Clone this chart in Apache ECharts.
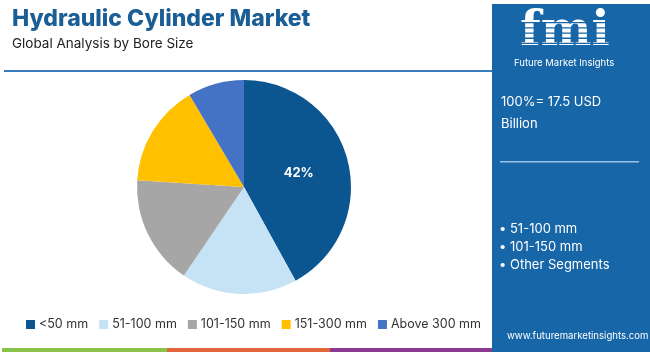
<!DOCTYPE html>
<html>
<head>
<meta charset="utf-8">
<script src="https://cdn.jsdelivr.net/npm/echarts@6/dist/echarts.min.js"></script>
<style>
  html, body { margin: 0; padding: 0; background: #fff; }
  #main { width: 650px; height: 352px; }
</style>
</head>
<body>
<div id="main"></div>
<script>
// 数据
const categories = ['<50 mm', '51-100 mm', '101-150 mm', '151-300 mm', 'Above 300 mm']
const shares = [42, 17.5, 16.5, 15.5, 8.5]
const sliceColors = ['#0b5591', '#c5e3f5', '#a6a6a6', '#ffc000', '#4472c4']
const sideBullets = ['• 51-100 mm', '• 101-150 mm', '• Other Segments']

const font = 'Inter, "Noto Sans", sans-serif'
const panelBlue = '#1766a8'

var myChart = echarts.init(document.getElementById('main'))

const pieData = categories.map(function (name, i) {
  return {
    name: name,
    value: shares[i],
    itemStyle: { color: sliceColors[i] },
    // 只有第一块显示百分比
    label: { show: i === 0 }
  }
})

const bulletTexts = sideBullets.map(function (t, i) {
  return {
    type: 'text',
    left: 499,
    top: 223 + i * 18,
    style: { text: t, fill: '#fff', font: '13px ' + font }
  }
})

// 标志上的横条纹
const stripes = []
for (let k = 0; k < 7; k++) {
  stripes.push({
    type: 'rect',
    shape: { x: 512, y: 22 + k * 5.2, width: 122, height: 1.3 },
    style: { fill: panelBlue },
    z: 20
  })
}

const options = {
  animation: false,
  title: [
    {
      text: 'Hydraulic Cylinder Market',
      left: 7,
      top: 3,
      textStyle: { color: '#1b5e96', fontSize: 23, fontWeight: 800, fontFamily: font }
    },
    {
      text: 'Global Analysis by Bore Size',
      left: 7,
      top: 32,
      textStyle: { color: '#222', fontSize: 13.5, fontWeight: 'normal', fontFamily: font }
    }
  ],
  legend: {
    left: 21,
    top: 313,
    itemWidth: 9,
    itemHeight: 9,
    itemGap: 11,
    icon: 'rect',
    textStyle: { fontSize: 12.5, color: '#333', fontFamily: font, padding: [0, 0, 0, -1] },
    data: categories
  },
  graphic: [
    // 左侧分隔线
    { type: 'rect', shape: { x: 4, y: 70, width: 488, height: 2 }, style: { fill: '#3a7bbf' } },
    // 右侧面板
    { type: 'rect', shape: { x: 492, y: 4, width: 158, height: 348 }, style: { fill: panelBlue } },
    {
      type: 'text',
      left: 520,
      top: 9,
      z: 10,
      style: { text: 'fmi', fill: '#fff', font: 'bold 48px "DejaVu Serif", serif' }
    },
    ...stripes,
    {
      type: 'text',
      left: 514,
      top: 58,
      z: 10,
      style: { text: 'Future Market Insights', fill: '#fff', font: '9.5px ' + font }
    },
    {
      type: 'text',
      left: 501,
      top: 91,
      style: { text: '100%= 17.5 USD\nBillion', fill: '#fff', font: '13px ' + font, lineHeight: 22 }
    },
    { type: 'rect', shape: { x: 500, y: 161, width: 139, height: 1.5 }, style: { fill: '#9cc3e6' } },
    ...bulletTexts,
    {
      type: 'text',
      left: 507,
      top: 331,
      style: { text: 'www.futuremarketinsights.com', fill: '#fff', font: '9.6px ' + font }
    },
    // 底部彩条
    { type: 'rect', shape: { x: 2, y: 348, width: 165, height: 4 }, style: { fill: '#8bc34a' } },
    { type: 'rect', shape: { x: 167, y: 348, width: 163, height: 4 }, style: { fill: '#e0663a' } },
    { type: 'rect', shape: { x: 330, y: 348, width: 162, height: 4 }, style: { fill: '#8e3a92' } }
  ],
  series: [
    {
      type: 'pie',
      center: [244, 187],
      radius: 107,
      startAngle: 90,
      clockwise: true,
      data: pieData,
      label: {
        position: 'inside',
        formatter: '{c}%',
        color: '#fff',
        fontSize: 13,
        fontWeight: 'bold',
        fontFamily: font
      },
      labelLine: { show: false },
      itemStyle: { borderWidth: 0 },
      emphasis: { disabled: true }
    }
  ]
}

myChart.setOption(options)
</script>
</body>
</html>
